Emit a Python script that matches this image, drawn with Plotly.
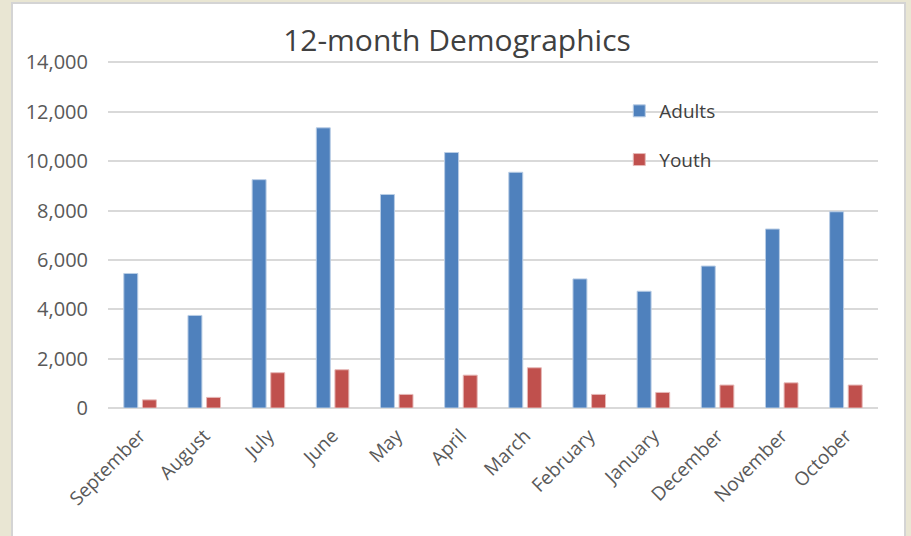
import plotly.graph_objects as go

# -----------------------------
# Data
# -----------------------------
months = [
    "September", "August", "July", "June", "May", "April",
    "March", "February", "January", "December", "November", "October",
]
adults = [5450, 3750, 9250, 11350, 8650, 10350, 9550, 5230, 4730, 5750, 7250, 7950]
youth = [330, 430, 1430, 1550, 550, 1330, 1630, 550, 630, 930, 1020, 930]
y_ticks = [0, 2000, 4000, 6000, 8000, 10000, 12000, 14000]

FONT = "Open Sans"
TEXT = "#595959"

fig = go.Figure()

fig.add_trace(
    go.Bar(
        x=months,
        y=adults,
        name="Adults",
        legendgroup="a",
        marker=dict(color="#4F81BD", line=dict(color="#B9CDE5", width=1)),
    )
)
fig.add_trace(
    go.Bar(
        x=months,
        y=youth,
        name="Youth",
        legendgroup="y",
        marker=dict(color="#C0504D", line=dict(color="#E6B9B8", width=1)),
    )
)

# plot area: 770 x 353 px (range 0..14300 so the 14,000 gridline is drawn)
PW, PH = 770, 353

# white chart card on a pale textured-looking backdrop
fig.add_shape(
    type="rect",
    xref="paper",
    yref="paper",
    x0=-96 / PW,
    x1=1 + 27 / PW,
    y0=-130 / PH,
    y1=1 + 52 / PH,
    fillcolor="white",
    line=dict(color="#D4D4D4", width=2),
    layer="below",
)

fig.update_layout(
    width=911,
    height=536,
    margin=dict(l=108, r=33, t=55, b=128),
    paper_bgcolor="#E9E6D3",
    plot_bgcolor="rgba(0,0,0,0)",
    barmode="group",
    bargap=0.42,
    bargroupgap=0.25,
    title=dict(
        text="12-month Demographics",
        x=(457 - 108) / PW,
        xref="paper",
        xanchor="center",
        y=0.925,
        yanchor="middle",
        font=dict(family=FONT, size=30, color="#404040"),
    ),
    font=dict(family=FONT, color=TEXT),
    legend=dict(
        x=0.664,
        y=(408 - 92) / PH,
        xanchor="left",
        yanchor="top",
        bgcolor="rgba(0,0,0,0)",
        font=dict(family=FONT, size=19, color="#404040"),
        traceorder="grouped",
        tracegroupgap=21,
        itemwidth=30,
    ),
)

fig.update_xaxes(
    tickangle=-45,
    tickfont=dict(family=FONT, size=19, color=TEXT),
    showgrid=False,
    showline=False,
    ticks="",
    ticklabelstandoff=12,
)
fig.update_yaxes(
    range=[0, 14300],
    tickvals=y_ticks,
    tickformat=",",
    tickfont=dict(family=FONT, size=20, color=TEXT),
    gridcolor="#D9D9D9",
    gridwidth=2,
    zeroline=True,
    zerolinecolor="#D9D9D9",
    zerolinewidth=2,
    showline=False,
    ticks="",
    ticklabelstandoff=19,
)

fig.write_html(
    "out.html",
    config={"displayModeBar": False},
    post_script="document.body.style.margin='0';",
)
